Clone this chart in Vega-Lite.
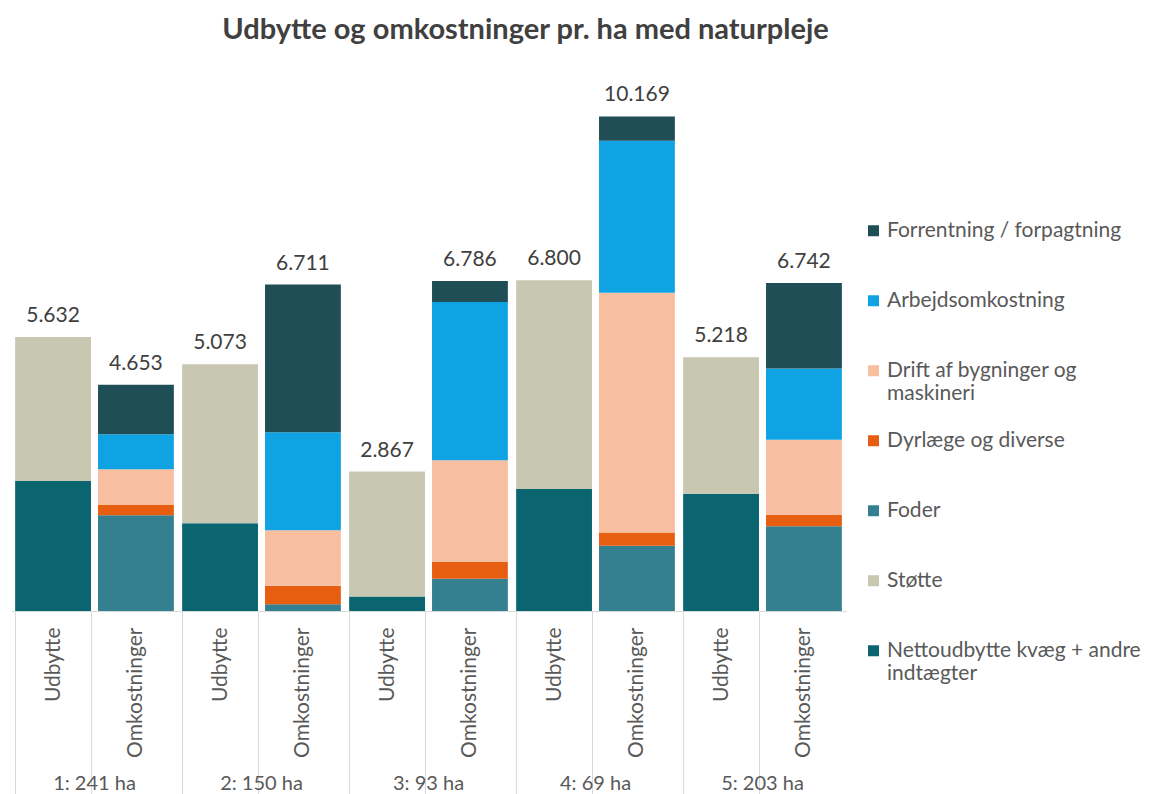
{
  "$schema": "https://vega.github.io/schema/vega-lite/v6.json",
  "padding": {"left": 0, "top": 16, "right": 0, "bottom": 0},
  "title": {
    "text": "Udbytte og omkostninger pr. ha med naturpleje",
    "font": "Lato", "fontSize": 29, "fontWeight": "bold", "color": "#404040",
    "anchor": "middle", "offset": 31, "dx": -45
  },
  "data": {
    "values": [
      {"group": "1: 241 ha", "type": "Udbytte", "component": "Nettoudbytte kvæg + andre indtægter", "value": 2673},
      {"group": "1: 241 ha", "type": "Udbytte", "component": "Støtte", "value": 2959},
      {"group": "1: 241 ha", "type": "Omkostninger", "component": "Foder", "value": 1968},
      {"group": "1: 241 ha", "type": "Omkostninger", "component": "Dyrlæge og diverse", "value": 212},
      {"group": "1: 241 ha", "type": "Omkostninger", "component": "Drift af bygninger og maskineri", "value": 734},
      {"group": "1: 241 ha", "type": "Omkostninger", "component": "Arbejdsomkostning", "value": 720},
      {"group": "1: 241 ha", "type": "Omkostninger", "component": "Forrentning / forpagtning", "value": 1019},
      {"group": "2: 150 ha", "type": "Udbytte", "component": "Nettoudbytte kvæg + andre indtægter", "value": 1803},
      {"group": "2: 150 ha", "type": "Udbytte", "component": "Støtte", "value": 3270},
      {"group": "2: 150 ha", "type": "Omkostninger", "component": "Foder", "value": 138},
      {"group": "2: 150 ha", "type": "Omkostninger", "component": "Dyrlæge og diverse", "value": 382},
      {"group": "2: 150 ha", "type": "Omkostninger", "component": "Drift af bygninger og maskineri", "value": 1139},
      {"group": "2: 150 ha", "type": "Omkostninger", "component": "Arbejdsomkostning", "value": 2015},
      {"group": "2: 150 ha", "type": "Omkostninger", "component": "Forrentning / forpagtning", "value": 3037},
      {"group": "3: 93 ha", "type": "Udbytte", "component": "Nettoudbytte kvæg + andre indtægter", "value": 299},
      {"group": "3: 93 ha", "type": "Udbytte", "component": "Støtte", "value": 2568},
      {"group": "3: 93 ha", "type": "Omkostninger", "component": "Foder", "value": 661},
      {"group": "3: 93 ha", "type": "Omkostninger", "component": "Dyrlæge og diverse", "value": 348},
      {"group": "3: 93 ha", "type": "Omkostninger", "component": "Drift af bygninger og maskineri", "value": 2088},
      {"group": "3: 93 ha", "type": "Omkostninger", "component": "Arbejdsomkostning", "value": 3257},
      {"group": "3: 93 ha", "type": "Omkostninger", "component": "Forrentning / forpagtning", "value": 432},
      {"group": "4: 69 ha", "type": "Udbytte", "component": "Nettoudbytte kvæg + andre indtægter", "value": 2506},
      {"group": "4: 69 ha", "type": "Udbytte", "component": "Støtte", "value": 4294},
      {"group": "4: 69 ha", "type": "Omkostninger", "component": "Foder", "value": 1343},
      {"group": "4: 69 ha", "type": "Omkostninger", "component": "Dyrlæge og diverse", "value": 271},
      {"group": "4: 69 ha", "type": "Omkostninger", "component": "Drift af bygninger og maskineri", "value": 4928},
      {"group": "4: 69 ha", "type": "Omkostninger", "component": "Arbejdsomkostning", "value": 3125},
      {"group": "4: 69 ha", "type": "Omkostninger", "component": "Forrentning / forpagtning", "value": 502},
      {"group": "5: 203 ha", "type": "Udbytte", "component": "Nettoudbytte kvæg + andre indtægter", "value": 2410},
      {"group": "5: 203 ha", "type": "Udbytte", "component": "Støtte", "value": 2808},
      {"group": "5: 203 ha", "type": "Omkostninger", "component": "Foder", "value": 1744},
      {"group": "5: 203 ha", "type": "Omkostninger", "component": "Dyrlæge og diverse", "value": 233},
      {"group": "5: 203 ha", "type": "Omkostninger", "component": "Drift af bygninger og maskineri", "value": 1545},
      {"group": "5: 203 ha", "type": "Omkostninger", "component": "Arbejdsomkostning", "value": 1462},
      {"group": "5: 203 ha", "type": "Omkostninger", "component": "Forrentning / forpagtning", "value": 1758}
    ]
  },
  "transform": [
    {"calculate": "indexof(['Forrentning / forpagtning', 'Arbejdsomkostning', 'Drift af bygninger og maskineri', 'Dyrlæge og diverse', 'Foder', 'Støtte', 'Nettoudbytte kvæg + andre indtægter'], datum.component)", "as": "stackRank"}
  ],
  "facet": {
    "column": {
      "field": "group", "type": "ordinal",
      "sort": ["1: 241 ha", "2: 150 ha", "3: 93 ha", "4: 69 ha", "5: 203 ha"],
      "header": {
        "title": null, "labelOrient": "bottom", "labelFont": "Lato", "labelFontSize": 20,
        "labelColor": "#595959", "labelPadding": -21
      }
    }
  },
  "spacing": 0,
  "spec": {
    "width": 167,
    "height": 535,
    "encoding": {
      "x": {
        "field": "type", "type": "nominal", "sort": ["Udbytte", "Omkostninger"],
        "scale": {"paddingInner": 0.085, "paddingOuter": 0.05},
        "axis": {
          "title": null, "labelAngle": -90, "labelFont": "Lato", "labelFontSize": 21,
          "labelColor": "#595959", "tickBand": "extent", "tickSize": 183,
          "tickColor": {"condition": {"test": "datum.value === 'Udbytte' || datum.extra", "value": "#d9d9d9"}, "value": "transparent"},
          "labelPadding": -167, "domainColor": "#d9d9d9"
        }
      }
    },
    "layer": [
      {
        "mark": {"type": "bar"},
        "encoding": {
          "y": {"field": "value", "type": "quantitative", "stack": "zero", "scale": {"domain": [0, 11000], "nice": false}, "axis": null},
          "order": {"field": "stackRank", "type": "quantitative", "sort": "descending"},
          "color": {
            "field": "component", "type": "nominal",
            "scale": {
              "domain": ["Forrentning / forpagtning", "Arbejdsomkostning", "Drift af bygninger og maskineri", "Dyrlæge og diverse", "Foder", "Støtte", "Nettoudbytte kvæg + andre indtægter"],
              "range": ["#204E57", "#10A3E3", "#F8BEA0", "#E85E10", "#358090", "#C8C7B2", "#0A6570"]
            },
            "legend": {
              "title": null, "orient": "none", "legendX": 852, "legendY": 120,
              "symbolType": "square", "symbolSize": 121, "symbolStrokeWidth": 0,
              "labelFont": "Lato", "labelFontSize": 21, "labelColor": "#595959", "labelLimit": 400,
              "labelOffset": 3, "rowPadding": 0, "clipHeight": 69.3, "padding": 0,
              "labelExpr": "datum.label == 'Drift af bygninger og maskineri' ? ['Drift af bygninger og', 'maskineri'] : datum.label == 'Nettoudbytte kvæg + andre indtægter' ? ['Nettoudbytte kvæg + andre', 'indtægter'] : datum.label"
            }
          }
        }
      },
      {
        "mark": {"type": "text", "baseline": "bottom", "dy": -11, "font": "Lato", "fontSize": 21, "color": "#404040"},
        "encoding": {
          "y": {"aggregate": "sum", "field": "value", "type": "quantitative"},
          "text": {"aggregate": "sum", "field": "value", "type": "quantitative", "format": ",d"}
        }
      }
    ]
  },
  "config": {
    "view": {"stroke": null},
    "locale": {"number": {"decimal": ",", "thousands": ".", "grouping": [3], "currency": ["", " kr."]}}
  }
}
